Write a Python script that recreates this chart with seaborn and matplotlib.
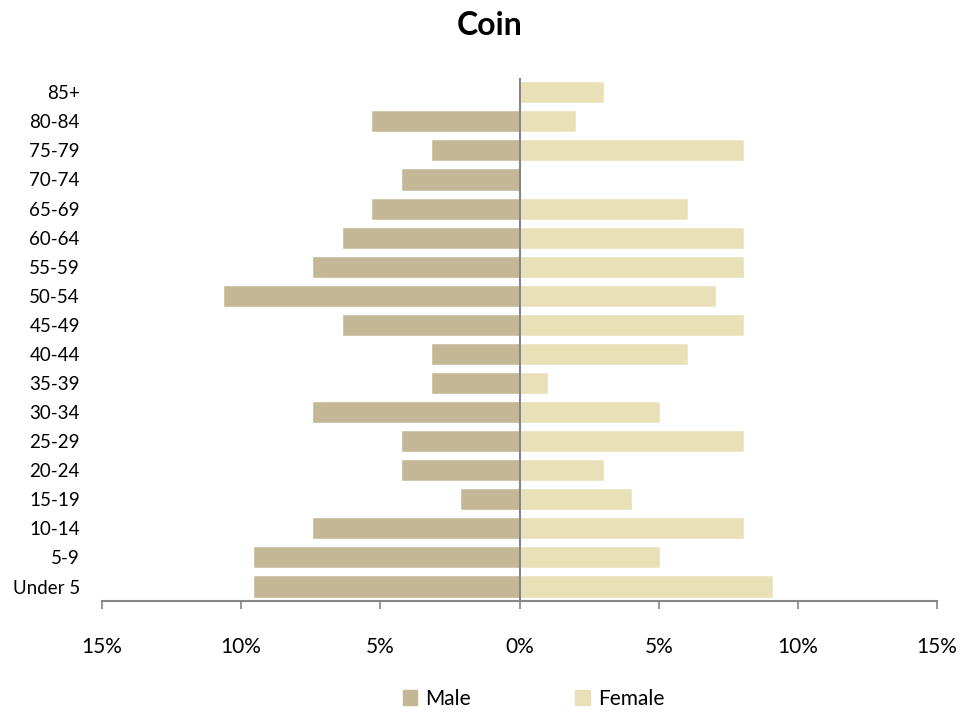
"""Coin population pyramid (Male / Female share by age group)."""

import matplotlib as mpl
import matplotlib.pyplot as plt
import pandas as pd
import seaborn as sns
from matplotlib.ticker import FuncFormatter, MultipleLocator

AGE_GROUPS = [
    "85+", "80-84", "75-79", "70-74", "65-69", "60-64", "55-59", "50-54", "45-49",
    "40-44", "35-39", "30-34", "25-29", "20-24", "15-19", "10-14", "5-9", "Under 5",
]
# percent of total
MALE = [0.0, 5.32, 3.19, 4.26, 5.32, 6.38, 7.45, 10.64, 6.38,
        3.19, 3.19, 7.45, 4.26, 4.26, 2.13, 7.45, 9.57, 9.57]
FEMALE = [3.03, 2.02, 8.08, 0.0, 6.06, 8.08, 8.08, 7.07, 8.08,
          6.06, 1.01, 5.05, 8.08, 3.03, 4.04, 8.08, 5.05, 9.09]
SEXES = ["Male", "Female"]
COLORS = {"Male": "#C4B796", "Female": "#E8E1B8"}
X_TICKS = [-15, -10, -5, 0, 5, 10, 15]

sns.set_style("white")
mpl.rcParams["font.family"] = ["Lato", "DejaVu Sans"]
mpl.rcParams["text.color"] = "black"
mpl.rcParams["xtick.color"] = "black"
mpl.rcParams["ytick.color"] = "black"


def main() -> None:
    df = pd.concat([
        pd.DataFrame({"age": AGE_GROUPS, "sex": "Male", "pct": [-v for v in MALE]}),
        pd.DataFrame({"age": AGE_GROUPS, "sex": "Female", "pct": FEMALE}),
    ])

    fig = plt.figure(figsize=(9.79, 7.13), dpi=100)
    ax = fig.add_axes([0.1042, 0.157, 0.8530, 0.734])
    sns.barplot(
        data=df, x="pct", y="age", hue="sex", order=AGE_GROUPS, hue_order=SEXES,
        palette=COLORS, dodge=False, orient="h", width=0.76, saturation=1,
        ax=ax, legend=False,
    )
    ax.set_xlim(X_TICKS[0], X_TICKS[-1])
    ax.set_ylim(len(AGE_GROUPS) - 0.5, -0.5)
    ax.xaxis.set_major_locator(MultipleLocator(5))
    ax.xaxis.set_major_formatter(FuncFormatter(lambda v, _: f"{abs(v):.0f}%"))
    ax.axvline(0, color="#868686", lw=1.5, zorder=5)

    for side in ["top", "right", "left"]:
        ax.spines[side].set_visible(False)
    ax.spines["bottom"].set_color("#868686")
    ax.spines["bottom"].set_linewidth(1.5)
    ax.tick_params(axis="x", bottom=True, direction="out", length=6, width=1.2,
                   color="#868686", labelcolor="black", pad=20, labelsize=15)
    ax.tick_params(axis="y", left=False, length=0, pad=16, labelsize=13.5,
                   labelcolor="black")
    ax.set_xlabel("")
    ax.set_ylabel("")
    fig.suptitle("Coin", fontsize=23, fontweight="bold", y=0.985)

    handles = [mpl.patches.Patch(color=COLORS[s], label=s) for s in SEXES]
    fig.legend(handles=handles, loc="center", bbox_to_anchor=(0.545, 0.02), ncol=2,
               frameon=False, fontsize=15, handlelength=0.7, handleheight=0.7,
               handletextpad=0.4, columnspacing=5.0)

    fig.savefig("out.png", dpi=100)


if __name__ == "__main__":
    main()
